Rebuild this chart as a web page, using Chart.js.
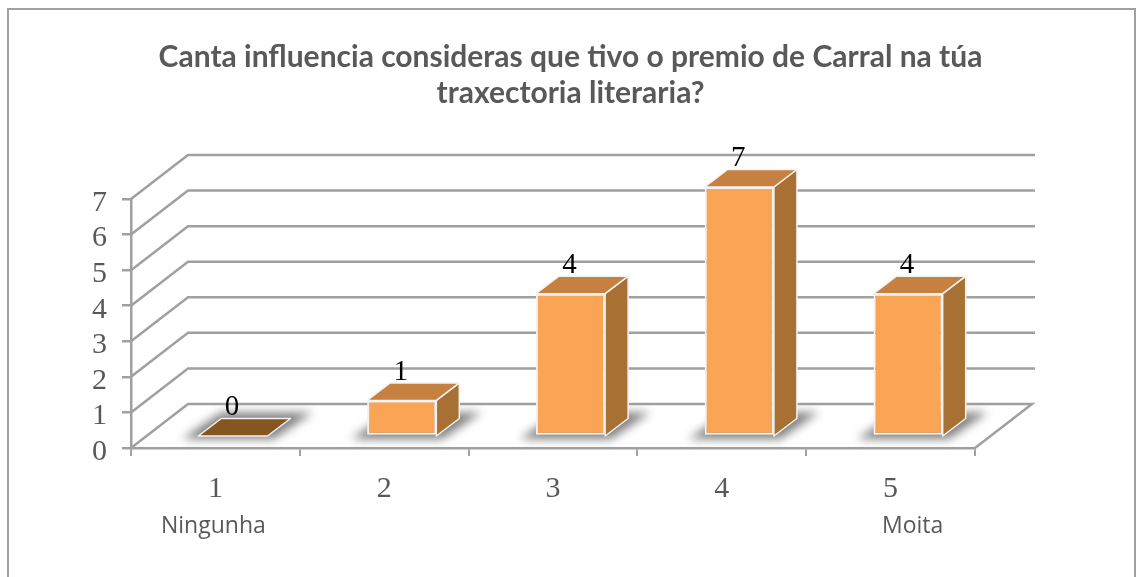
<!DOCTYPE html>
<html>
<head>
<meta charset="utf-8">
<style>
html,body{margin:0;padding:0;background:#fff;width:1141px;height:577px;overflow:hidden}
canvas{display:block}
</style>
<script src="https://cdn.jsdelivr.net/npm/chart.js@4"></script>
</head>
<body>
<canvas id="c" width="1141" height="577"></canvas>
<script>
const categories = ["1","2","3","4","5"];
const values = [0,1,4,7,4];
const notes = ["Ningunha","","","","Moita"];
const titleLines = ["Canta influencia consideras que tivo o premio de Carral na túa","traxectoria literaria?"];

const GRAY="#a0a0a0", TEXT="#595959";
const FRONT="#faa556", TOP="#c6803f", SIDE="#a97033", FLOOR="#85561f", EDGE="#f2f2f2";
const BACK_DX=57, BACK_DY=44, BAR_DX=23, BAR_DY=17.5, SHIFT_X=17.5, SHIFT_Y=-12;

function poly(ctx,pts,fill,stroke,w){
  ctx.beginPath();
  pts.forEach((p,i)=>i?ctx.lineTo(p[0],p[1]):ctx.moveTo(p[0],p[1]));
  ctx.closePath();
  if(fill){ctx.fillStyle=fill;ctx.fill();}
  if(stroke){ctx.strokeStyle=stroke;ctx.lineWidth=w||1.5;ctx.lineJoin="round";ctx.stroke();}
}

const scene={
  id:"scene",
  afterLayout(chart){
    chart.titleBlock.left=0;
    chart.titleBlock.right=chart.width;
  },
  beforeDraw(chart){
    const ctx=chart.ctx;
    ctx.save();
    ctx.strokeStyle=GRAY;ctx.lineWidth=2;
    ctx.beginPath();ctx.moveTo(8,577);ctx.lineTo(8,9);ctx.lineTo(1135,9);ctx.lineTo(1135,577);ctx.stroke();
    ctx.restore();
  },
  beforeDatasetsDraw(chart){
    const ctx=chart.ctx,{left,right}=chart.chartArea,y=chart.scales.y;
    ctx.save();
    ctx.strokeStyle=GRAY;ctx.lineWidth=2.5;
    y.ticks.forEach(t=>{
      const p=y.getPixelForValue(t.value);
      ctx.beginPath();
      ctx.moveTo(left,p);ctx.lineTo(left+BACK_DX,p-BACK_DY);ctx.lineTo(right+BACK_DX+(t.value===0?0:3),p-BACK_DY);
      if(t.value===0)ctx.lineTo(right,p);
      ctx.stroke();
    });
    ctx.restore();
    ctx.save();
    ctx.translate(SHIFT_X,SHIFT_Y);
    const meta=chart.getDatasetMeta(0);
    const base=y.getPixelForValue(0);
    meta.data.forEach(b=>{
      const l=b.x-b.width/2,r=b.x+b.width/2;
      ctx.save();
      ctx.filter="blur(5px)";
      poly(ctx,[[l-16,base+3],[r+6,base+3],[r+BAR_DX+22,base-BAR_DY-6],[l+BAR_DX,base-BAR_DY-6]],"#808080");
      ctx.restore();
    });
    meta.data.forEach((b,i)=>{
      const l=b.x-b.width/2,r=b.x+b.width/2,t=b.y;
      if(values[i]>0){
        poly(ctx,[[r,t],[r+BAR_DX,t-BAR_DY],[r+BAR_DX,base-BAR_DY],[r,base]],SIDE,EDGE);
      }
      poly(ctx,[[l,t],[r,t],[r+BAR_DX,t-BAR_DY],[l+BAR_DX,t-BAR_DY]],values[i]>0?TOP:FLOOR,EDGE);
    });
  },
  afterDatasetsDraw(chart){
    const ctx=chart.ctx,meta=chart.getDatasetMeta(0);
    ctx.textAlign="center";ctx.textBaseline="middle";
    ctx.fillStyle="#000";ctx.font='29px "Liberation Serif"';
    meta.data.forEach((b,i)=>ctx.fillText(String(values[i]),b.x-1,b.y-28.5));
    ctx.restore();
    const x=chart.scales.x;
    ctx.save();
    ctx.fillStyle=TEXT;ctx.font='23px "Open Sans"';ctx.textBaseline="middle";ctx.textAlign="center";
    const noteOffset=[-2,0,0,0,22];
    notes.forEach((n,i)=>{ if(n)ctx.fillText(n,x.getPixelForValue(i)+noteOffset[i],526); });
    ctx.restore();
  }
};

new Chart(document.getElementById("c"),{
  type:"bar",
  data:{labels:categories,datasets:[{
    data:values,backgroundColor:FRONT,borderColor:EDGE,borderWidth:2,borderSkipped:false,
    barPercentage:0.41,categoryPercentage:1,clip:false
  }]},
  plugins:[scene],
  options:{
    responsive:false,animation:false,
    layout:{padding:{left:0,right:166,top:0,bottom:0}},
    plugins:{
      legend:{display:false},tooltip:{enabled:false},
      title:{display:true,text:titleLines,color:TEXT,
        font:{family:'"Lato"',size:30,weight:"bold",lineHeight:1.2},
        padding:{top:39,bottom:88}}
    },
    scales:{
      y:{min:0,max:7,
        afterFit(s){s.width=131;},
        ticks:{stepSize:1,color:TEXT,font:{family:'"Liberation Serif"',size:30,lineHeight:0.27},padding:15,
          callback:v=>["",String(v)]},
        grid:{drawOnChartArea:false,drawTicks:true,tickLength:9,color:GRAY,lineWidth:2.5},
        border:{display:true,color:GRAY,width:2.5}
      },
      x:{
        afterFit(s){s.height=129;},
        ticks:{color:TEXT,font:{family:'"Liberation Serif"',size:30},padding:15,maxRotation:0},
        grid:{drawOnChartArea:false,drawTicks:true,tickLength:8,color:GRAY,lineWidth:2,offset:true},
        border:{display:true,color:GRAY,width:2.5}
      }
    }
  }
});
</script>
</body>
</html>
